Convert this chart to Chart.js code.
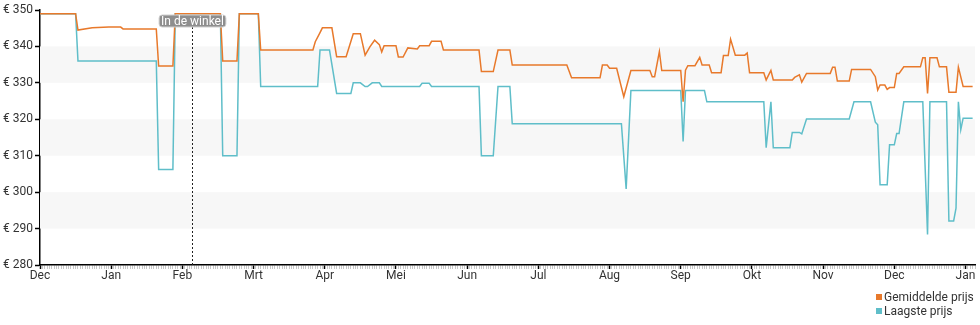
<!DOCTYPE html>
<html>
<head>
<meta charset="utf-8">
<title>Prijsverloop</title>
<script src="https://cdn.jsdelivr.net/npm/chart.js@4"></script>
<style>
  html, body { margin: 0; padding: 0; background: #fff; }
  canvas { display: block; }
</style>
</head>
<body>
<canvas id="chart" width="980" height="325"></canvas>
<script>
// x positions are days from the start of December, 30 days per month on the axis
const monthLabels = ['Dec', 'Jan', 'Feb', 'Mrt', 'Apr', 'Mei', 'Jun', 'Jul', 'Aug', 'Sep', 'Okt', 'Nov', 'Dec', 'Jan'];

const avgDays = [0, 15, 16, 22, 29, 34, 35, 49, 50, 56, 57, 76, 77, 83, 84, 92, 93,
  115, 116, 118, 119, 123, 125, 129, 132, 135, 137, 139, 141, 143, 144, 145, 150, 151, 153, 155,
  159, 160, 164, 165, 169, 170, 185, 186, 191, 193, 198, 199, 222, 224, 236, 237, 239, 240, 243,
  246, 249, 257, 258, 259, 261, 262, 270, 271, 272, 273, 276, 278, 279, 282, 283, 287, 288, 290,
  291, 293, 297, 298, 299, 305, 306, 308, 309, 317, 318, 320, 321, 323, 333, 334, 335, 336, 341,
  342, 350, 352, 353, 354, 356, 357, 358, 360, 361, 362, 364, 371, 372, 373, 374, 375, 378, 379,
  382, 383, 386, 387, 389, 393];
const avgPrice = [349, 349, 344.5, 345.1, 345.3, 345.3, 344.8, 344.8, 334.6, 334.6, 349, 349, 336, 336, 349, 349, 339,
  339, 341.3, 343.8, 345.1, 345.1, 337.2, 337.2, 343.5, 343.5, 337.6, 339.9, 341.7, 340.5, 338.5, 340.2, 340.2, 337.1, 337.1, 339.6,
  339.3, 340.2, 340.2, 341.4, 341.4, 339, 339, 333.1, 333.1, 339, 339, 334.9, 334.9, 331.4, 331.4, 334.9, 334.9, 334, 334,
  326.2, 333.4, 333.4, 331.7, 331.7, 338.6, 333.4, 333.4, 324.8, 333.5, 334.7, 334.7, 337, 334.9, 334.9, 332.8, 332.8, 337.5, 337.5,
  342, 337.6, 337.6, 338.2, 332.8, 332.8, 330.8, 333.4, 330.8, 330.8, 331.5, 332.2, 330.2, 332.6, 332.6, 334.3, 334.3, 330.5, 330.5,
  333.7, 333.7, 331.7, 328, 329.4, 329.4, 328.2, 328.7, 328.7, 332.6, 332.6, 334.4, 334.4, 336.9, 336.9, 327.1, 336.9, 336.9, 334.4,
  334.4, 327.4, 327.4, 334.3, 329, 329];

const lowDays = [0, 15, 16, 49, 50, 56, 57, 76, 77, 83, 84, 92, 93,
  117, 118, 122, 125, 131, 132, 135, 137, 138, 140, 143, 144, 160, 161, 164, 165, 185, 186, 191,
  193, 198, 199, 245, 247, 249, 270, 271, 272, 280, 281, 305, 306, 308, 309, 316, 317, 320, 321,
  323, 341, 343, 350, 352, 353, 354, 357, 358, 360, 361, 362, 364, 372, 374, 375, 382, 383, 385,
  386, 387, 388, 389, 393];
const lowPrice = [349, 349, 336, 336, 306.2, 306.2, 349, 349, 310, 310, 349, 349, 329,
  329, 339, 339, 327.1, 327.1, 330, 330, 329, 329, 330, 330, 329, 329, 329.9, 329.9, 329, 329, 310, 310,
  329, 329, 318.8, 318.8, 300.9, 327.9, 327.9, 313.9, 327.9, 327.9, 324.8, 324.8, 312.2, 324.8, 312.2, 312.2, 316.4, 316.4, 316,
  320.1, 320.1, 324.8, 324.8, 319.2, 318.5, 302, 302, 313, 313, 316.1, 316.1, 324.8, 324.8, 288.4, 324.8, 324.8, 292.1, 292.1,
  295.6, 324.8, 317.1, 320.3, 320.3];

const priceTicks = [280, 290, 300, 310, 320, 330, 340, 350];

const storeMarker = { day: 64, label: 'In de winkel' };

const toPoints = (xs, ys) => xs.map((x, i) => ({ x, y: ys[i] }));

// light grey bands on every other gap between the price ticks
const bandsPlugin = {
  id: 'bands',
  beforeDatasetsDraw(chart) {
    const { ctx, chartArea, scales } = chart;
    ctx.save();
    ctx.fillStyle = '#f7f7f7';
    for (let i = 1; i < priceTicks.length - 1; i += 2) {
      const top = scales.y.getPixelForValue(priceTicks[i + 1]);
      const bottom = scales.y.getPixelForValue(priceTicks[i]);
      ctx.fillRect(chartArea.left, top, chartArea.right - chartArea.left, bottom - top);
    }
    ctx.restore();
  }
};

// dotted marker line with its label box
const markerPlugin = {
  id: 'marker',
  afterDatasetsDraw(chart) {
    const { ctx, chartArea, scales } = chart;
    const x = Math.round(scales.x.getPixelForValue(storeMarker.day)) + 0.5;
    ctx.save();
    ctx.strokeStyle = '#222';
    ctx.lineWidth = 1;
    ctx.setLineDash([2, 2]);
    ctx.beginPath();
    ctx.moveTo(x, chartArea.top + 5);
    ctx.lineTo(x, chartArea.bottom);
    ctx.stroke();
    ctx.setLineDash([]);

    ctx.font = '12px Roboto';
    const w = ctx.measureText(storeMarker.label).width + 4;
    const h = 12;
    const bx = x - w / 2;
    const by = chartArea.top + 5;
    ctx.fillStyle = '#8e8e8e';
    ctx.strokeStyle = '#d0d0d0';
    ctx.beginPath();
    ctx.roundRect(bx, by, w, h, 3);
    ctx.fill();
    ctx.stroke();
    ctx.fillStyle = '#fff';
    ctx.textAlign = 'center';
    ctx.textBaseline = 'middle';
    ctx.fillText(storeMarker.label, x, by + h / 2 + 0.5);
    ctx.restore();
  }
};

// stacked legend in the bottom right corner
const stackedLegend = {
  id: 'stackedLegend',
  afterDraw(chart) {
    const { ctx } = chart;
    const left = chart.width - 104;
    ctx.save();
    ctx.font = '12px Roboto';
    ctx.textBaseline = 'middle';
    ctx.textAlign = 'left';
    chart.data.datasets.forEach((ds, i) => {
      const cy = 297 + i * 14;
      ctx.fillStyle = ds.borderColor;
      ctx.fillRect(left, cy - 3, 6, 6);
      ctx.fillStyle = '#333';
      ctx.fillText(ds.label, left + 8, cy + 0.5);
    });
    ctx.restore();
  }
};

Chart.defaults.font.family = 'Roboto';
Chart.defaults.color = '#333';

new Chart(document.getElementById('chart'), {
  type: 'line',
  data: {
    datasets: [
      {
        label: 'Gemiddelde prijs',
        data: toPoints(avgDays, avgPrice),
        borderColor: '#e8792b',
        backgroundColor: '#e8792b',
        borderWidth: 1.5,
        pointRadius: 0,
        tension: 0
      },
      {
        label: 'Laagste prijs',
        data: toPoints(lowDays, lowPrice),
        borderColor: '#5fbec9',
        backgroundColor: '#5fbec9',
        borderWidth: 1.5,
        pointRadius: 0,
        tension: 0
      }
    ]
  },
  options: {
    responsive: false,
    animation: false,
    devicePixelRatio: 1,
    layout: { padding: { top: 10, right: 5, bottom: 40, left: 0 } },
    plugins: {
      legend: { display: false },
      tooltip: { enabled: false }
    },
    scales: {
      x: {
        type: 'linear',
        min: 0,
        max: 394,
        afterFit: scale => { scale.height = 20; },
        border: { color: '#000', width: 1.5 },
        grid: {
          drawOnChartArea: false,
          tickLength: 4,
          tickColor: c => (c.tick && c.tick.value % 30 === 0 ? '#000' : '#c8c8c8'),
          tickWidth: c => (c.tick && c.tick.value % 30 === 0 ? 1.5 : 1)
        },
        ticks: {
          stepSize: 1,
          autoSkip: false,
          maxRotation: 0,
          padding: 0,
          font: { size: 12 },
          callback: v => (v % 30 === 0 ? monthLabels[v / 30] : '')
        }
      },
      y: {
        min: 280,
        max: 350,
        afterFit: scale => { scale.width = 40; },
        border: { color: '#000', width: 1.5 },
        grid: { drawOnChartArea: false, tickLength: 5, tickColor: '#000', tickWidth: 1.5 },
        ticks: {
          stepSize: 10,
          padding: 2,
          font: { size: 12 },
          callback: v => '€ ' + v
        }
      }
    }
  },
  plugins: [bandsPlugin, markerPlugin, stackedLegend]
});
</script>
</body>
</html>
